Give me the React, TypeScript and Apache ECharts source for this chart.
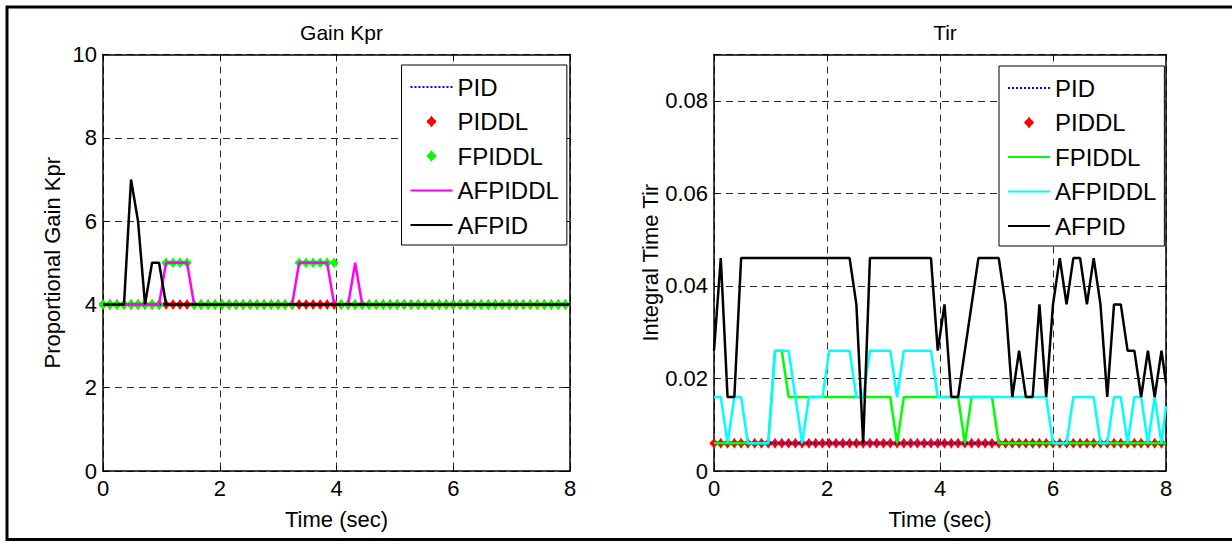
import React, { useEffect, useRef } from 'react';
import * as echarts from 'echarts';

const FONT = "'Liberation Sans', Arial, Helvetica, sans-serif";

// sample times (s)
const time = [0, 0.12, 0.24, 0.36, 0.48, 0.6, 0.72, 0.84, 0.96, 1.08, 1.2, 1.32, 1.44, 1.56, 1.68, 1.8, 1.92, 2.04, 2.16, 2.28, 2.4, 2.52, 2.64, 2.76, 2.88, 3, 3.12, 3.24, 3.36, 3.48, 3.6, 3.72, 3.84, 3.96, 4.08, 4.2, 4.32, 4.44, 4.56, 4.68, 4.8, 4.92, 5.04, 5.16, 5.28, 5.4, 5.52, 5.64, 5.76, 5.88, 6, 6.12, 6.24, 6.36, 6.48, 6.6, 6.72, 6.84, 6.96, 7.08, 7.2, 7.32, 7.44, 7.56, 7.68, 7.8, 7.92, 8];

const seriesNames = ['PID', 'PIDDL', 'FPIDDL', 'AFPIDDL', 'AFPID'];
const markerNames = ['PIDDL', 'FPIDDL'];
const markerNamesRight = ['PIDDL'];
const xTicks = { min: 0, max: 8, interval: 2 };
const kprTicks = { min: 0, max: 10, interval: 2 };
const tirTicks = { min: 0, max: 0.09, interval: 0.02 };

// ---- Gain Kpr ----
const kprPID = [4, 4, 4, 4, 4, 4, 4, 4, 4, 4, 4, 4, 4, 4, 4, 4, 4, 4, 4, 4, 4, 4, 4, 4, 4, 4, 4, 4, 4, 4, 4, 4, 4, 4, 4, 4, 4, 4, 4, 4, 4, 4, 4, 4, 4, 4, 4, 4, 4, 4, 4, 4, 4, 4, 4, 4, 4, 4, 4, 4, 4, 4, 4, 4, 4, 4, 4, 4];
const kprPIDDL = [4, 4, 4, 4, 4, 4, 4, 4, 4, 4, 4, 4, 4, 4, 4, 4, 4, 4, 4, 4, 4, 4, 4, 4, 4, 4, 4, 4, 4, 4, 4, 4, 4, 4, 4, 4, 4, 4, 4, 4, 4, 4, 4, 4, 4, 4, 4, 4, 4, 4, 4, 4, 4, 4, 4, 4, 4, 4, 4, 4, 4, 4, 4, 4, 4, 4, 4];
const kprFPIDDL = [4, 4, 4, 4, 4, 4, 4, 4, 4, 5, 5, 5, 5, 4, 4, 4, 4, 4, 4, 4, 4, 4, 4, 4, 4, 4, 4, 4, 5, 5, 5, 5, 5, 5, 4, 4, 4, 4, 4, 4, 4, 4, 4, 4, 4, 4, 4, 4, 4, 4, 4, 4, 4, 4, 4, 4, 4, 4, 4, 4, 4, 4, 4, 4, 4, 4, 4];
const kprAFPIDDL = [4, 4, 4, 4, 4, 4, 4, 4, 4, 5, 5, 5, 5, 4, 4, 4, 4, 4, 4, 4, 4, 4, 4, 4, 4, 4, 4, 4, 5, 5, 5, 5, 5, 4, 4, 4, 5, 4, 4, 4, 4, 4, 4, 4, 4, 4, 4, 4, 4, 4, 4, 4, 4, 4, 4, 4, 4, 4, 4, 4, 4, 4, 4, 4, 4, 4, 4, 4];
const kprAFPID = [4, 4, 4, 4, 7, 6, 4, 5, 5, 4, 4, 4, 4, 4, 4, 4, 4, 4, 4, 4, 4, 4, 4, 4, 4, 4, 4, 4, 4, 4, 4, 4, 4, 4, 4, 4, 4, 4, 4, 4, 4, 4, 4, 4, 4, 4, 4, 4, 4, 4, 4, 4, 4, 4, 4, 4, 4, 4, 4, 4, 4, 4, 4, 4, 4, 4, 4, 4];

// ---- Tir ----
const tirPID = [0.006, 0.006, 0.006, 0.006, 0.006, 0.006, 0.006, 0.006, 0.006, 0.006, 0.006, 0.006, 0.006, 0.006, 0.006, 0.006, 0.006, 0.006, 0.006, 0.006, 0.006, 0.006, 0.006, 0.006, 0.006, 0.006, 0.006, 0.006, 0.006, 0.006, 0.006, 0.006, 0.006, 0.006, 0.006, 0.006, 0.006, 0.006, 0.006, 0.006, 0.006, 0.006, 0.006, 0.006, 0.006, 0.006, 0.006, 0.006, 0.006, 0.006, 0.006, 0.006, 0.006, 0.006, 0.006, 0.006, 0.006, 0.006, 0.006, 0.006, 0.006, 0.006, 0.006, 0.006, 0.006, 0.006, 0.006, 0.006];
const tirPIDDL = [0.006, 0.006, 0.006, 0.006, 0.006, 0.006, 0.006, 0.006, 0.006, 0.006, 0.006, 0.006, 0.006, 0.006, 0.006, 0.006, 0.006, 0.006, 0.006, 0.006, 0.006, 0.006, 0.006, 0.006, 0.006, 0.006, 0.006, 0.006, 0.006, 0.006, 0.006, 0.006, 0.006, 0.006, 0.006, 0.006, 0.006, 0.006, 0.006, 0.006, 0.006, 0.006, 0.006, 0.006, 0.006, 0.006, 0.006, 0.006, 0.006, 0.006, 0.006, 0.006, 0.006, 0.006, 0.006, 0.006, 0.006, 0.006, 0.006, 0.006, 0.006, 0.006, 0.006, 0.006, 0.006, 0.006, 0.006];
const tirFPIDDL = [0.006, 0.006, 0.006, 0.006, 0.006, 0.006, 0.006, 0.006, 0.006, 0.026, 0.026, 0.016, 0.016, 0.016, 0.016, 0.016, 0.016, 0.016, 0.016, 0.016, 0.016, 0.016, 0.016, 0.016, 0.016, 0.016, 0.016, 0.006, 0.016, 0.016, 0.016, 0.016, 0.016, 0.016, 0.016, 0.016, 0.016, 0.006, 0.016, 0.016, 0.016, 0.016, 0.006, 0.006, 0.006, 0.006, 0.006, 0.006, 0.006, 0.006, 0.006, 0.006, 0.006, 0.006, 0.006, 0.006, 0.006, 0.006, 0.006, 0.006, 0.006, 0.006, 0.006, 0.006, 0.006, 0.006, 0.006, 0.006];
const tirAFPIDDL = [0.016, 0.016, 0.006, 0.016, 0.016, 0.006, 0.006, 0.006, 0.006, 0.026, 0.026, 0.026, 0.016, 0.006, 0.016, 0.016, 0.016, 0.026, 0.026, 0.026, 0.026, 0.016, 0.016, 0.026, 0.026, 0.026, 0.026, 0.016, 0.026, 0.026, 0.026, 0.026, 0.026, 0.016, 0.016, 0.016, 0.016, 0.016, 0.016, 0.016, 0.016, 0.016, 0.016, 0.016, 0.016, 0.016, 0.016, 0.016, 0.016, 0.016, 0.006, 0.006, 0.006, 0.016, 0.016, 0.016, 0.016, 0.006, 0.006, 0.016, 0.016, 0.006, 0.016, 0.016, 0.006, 0.016, 0.006, 0.014];
const tirAFPID = [0.026, 0.046, 0.016, 0.016, 0.046, 0.046, 0.046, 0.046, 0.046, 0.046, 0.046, 0.046, 0.046, 0.046, 0.046, 0.046, 0.046, 0.046, 0.046, 0.046, 0.046, 0.036, 0.006, 0.046, 0.046, 0.046, 0.046, 0.046, 0.046, 0.046, 0.046, 0.046, 0.046, 0.026, 0.036, 0.016, 0.016, 0.026, 0.036, 0.046, 0.046, 0.046, 0.046, 0.036, 0.016, 0.026, 0.016, 0.016, 0.036, 0.016, 0.036, 0.046, 0.036, 0.046, 0.046, 0.036, 0.046, 0.036, 0.016, 0.036, 0.036, 0.026, 0.026, 0.016, 0.026, 0.016, 0.026, 0.019];

const pairs = (vals: number[]) => vals.map((v, i) => [time[i], v]);

const MARKER = 'path://M0,-6L2,-3L4.5,-1L4.5,1L2,3L0,6L-2,3L-4.5,1L-4.5,-1L-2,-3Z';
const SUFFIX = '#2';
const FS_AXIS = 22;
const FS_LEGEND = 24;
const FS_TITLE = 21;

const axisText = { fontSize: FS_AXIS, color: '#000', fontFamily: FONT };
const gridLine = { show: true, lineStyle: { color: '#2a2a2a', type: [7, 5] as any, width: 1 } };
const blackLine = { show: true, onZero: false, lineStyle: { color: '#000', width: 1.5 } };
const tickIn = { show: true, inside: true, length: 5, lineStyle: { color: '#000', width: 1 } };

function lineSeries(name: string, xi: number, vals: number[], color: string, dotted = false) {
  return {
    name, type: 'line', xAxisIndex: xi, yAxisIndex: xi, data: pairs(vals),
    symbol: 'none', showSymbol: false, color,
    itemStyle: { color },
    lineStyle: { color, width: dotted ? 2 : 2.5, type: dotted ? 'dotted' : 'solid' },
  };
}
function markerSeries(name: string, xi: number, vals: number[], color: string) {
  return {
    name, type: 'scatter', xAxisIndex: xi, yAxisIndex: xi, data: pairs(vals),
    symbol: MARKER, symbolSize: [8, 11], color, itemStyle: { color, opacity: 1 },
  };
}

function makeAxes(gridIndex: number, yT: any, yName: string, fmt: (v: number) => string) {
  const xs = [
    {
      type: 'value', gridIndex, position: 'bottom', ...xTicks,
      name: 'Time (sec)', nameLocation: 'middle', nameGap: 37, nameTextStyle: axisText,
      axisLine: blackLine, axisTick: tickIn, axisLabel: { ...axisText, margin: 6 }, splitLine: gridLine,
    },
    {
      type: 'value', gridIndex, position: 'top', ...xTicks,
      axisLine: blackLine, axisTick: tickIn, axisLabel: { show: false }, splitLine: { show: false },
    },
  ];
  const ys = [
    {
      type: 'value', gridIndex, position: 'left', ...yT,
      name: yName, nameLocation: 'middle', nameGap: 40, nameTextStyle: axisText,
      axisLine: blackLine, axisTick: tickIn, axisLabel: { ...axisText, margin: 6, formatter: fmt }, splitLine: gridLine,
    },
    {
      type: 'value', gridIndex, position: 'right', ...yT,
      axisLine: blackLine, axisTick: tickIn, axisLabel: { show: false }, splitLine: { show: false },
    },
  ];
  return { xs, ys };
}

const legendBase = {
  orient: 'vertical', itemWidth: 42, itemHeight: 12, itemGap: 10.5,
  backgroundColor: '#fff', borderColor: '#000', borderWidth: 1,
  padding: [10, 8, 8, 8], selectedMode: false, symbolKeepAspect: true,
  textStyle: { fontSize: FS_LEGEND, color: '#000', fontFamily: FONT, lineHeight: 24 },
};

function legendData(names: string[], markers: string[], suffix: string) {
  return names.map((n) =>
    markers.indexOf(n) >= 0 ? { name: n + suffix } : { name: n + suffix, itemStyle: { opacity: 0 } }
  );
}

export default function App() {
  const ref = useRef<HTMLDivElement>(null);
  useEffect(() => {
    const chart = echarts.init(ref.current!, null, { renderer: 'svg' });
    const left = makeAxes(0, kprTicks, 'Proportional Gain Kpr', (v) => String(v));
    const right = makeAxes(1, tirTicks, 'Integral Time Tir', (v) => (v > 0.085 ? '' : String(+v.toFixed(2))));
    const titleStyle = { fontSize: FS_TITLE, fontWeight: 'normal', color: '#000', fontFamily: FONT };
    const option: any = {
      animation: false,
      backgroundColor: '#fff',
      textStyle: { fontFamily: FONT },
      title: [
        { text: 'Gain Kpr', left: 336.5, top: 17, textAlign: 'center', textStyle: titleStyle },
        { text: 'Tir', left: 940, top: 17, textAlign: 'center', textStyle: titleStyle },
      ],
      grid: [
        { left: 103, top: 54.5, width: 467, height: 416.5 },
        { left: 714, top: 54.5, width: 452, height: 416.5 },
      ],
      xAxis: [...left.xs, ...right.xs],
      yAxis: [...left.ys, ...right.ys],
      legend: [
        { ...legendBase, left: 401.5, top: 65, data: legendData(seriesNames, markerNames, '') },
        {
          ...legendBase, left: 999, top: 66,
          data: legendData(seriesNames, markerNamesRight, SUFFIX),
          formatter: (n: string) => n.replace(SUFFIX, ''),
        },
      ],
      graphic: [
        { type: 'rect', silent: true, z: 100, shape: { x: 7, y: 7, width: 1240, height: 532.5 }, style: { fill: 'none', stroke: '#000', lineWidth: 3 } },
      ],
      series: [
        lineSeries('PID', 0, kprPID, '#0000ff', true),
        markerSeries('PIDDL', 0, kprPIDDL, '#ff0000'),
        markerSeries('FPIDDL', 0, kprFPIDDL, '#00ff00'),
        lineSeries('AFPIDDL', 0, kprAFPIDDL, '#ff00ff'),
        lineSeries('AFPID', 0, kprAFPID, '#000000'),
        lineSeries('PID' + SUFFIX, 2, tirPID, '#0000ff', true),
        markerSeries('PIDDL' + SUFFIX, 2, tirPIDDL, '#ff0000'),
        lineSeries('FPIDDL' + SUFFIX, 2, tirFPIDDL, '#00ff00'),
        lineSeries('AFPIDDL' + SUFFIX, 2, tirAFPIDDL, '#00ffff'),
        lineSeries('AFPID' + SUFFIX, 2, tirAFPID, '#000000'),
      ],
    };
    chart.setOption(option);
    return () => chart.dispose();
  }, []);
  return <div ref={ref} style={{ position: 'fixed', left: 0, top: 0, width: 1232, height: 545, background: '#fff' }} />;
}
